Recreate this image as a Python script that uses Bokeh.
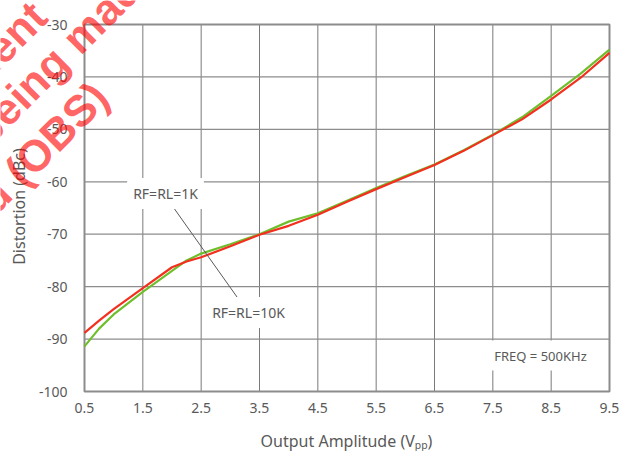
from bokeh.plotting import figure
from bokeh.models import Range1d, Label, FixedTicker
from bokeh.embed import file_html
from bokeh.resources import INLINE
import math

# ---------------- data ----------------
x_ticks = [0.5, 1.5, 2.5, 3.5, 4.5, 5.5, 6.5, 7.5, 8.5, 9.5]
y_ticks = [-100, -90, -80, -70, -60, -50, -40, -30]
y_tick_labels = {t: str(t) for t in y_ticks}
x_lim = (0.5, 9.5)
y_lim = (-100, -30)

x_red = [0.5, 0.75, 1.0, 1.5, 2.0, 2.25, 2.5, 3.0, 3.5, 4.0, 4.5, 5.0, 5.5, 6.0, 6.5, 7.0, 7.5, 8.0, 8.5, 9.0, 9.5]
y_red = [-88.8, -86.5, -84.3, -80.3, -76.3, -75.2, -74.4, -72.3, -70.1, -68.4, -66.3, -63.8, -61.4, -59.1, -56.8, -54.1, -51.1, -48.1, -44.3, -40.2, -35.4]

x_green = [0.5, 0.75, 1.0, 1.5, 2.0, 2.25, 2.5, 3.0, 3.5, 4.0, 4.5, 5.0, 5.5, 6.0, 6.5, 7.0, 7.5, 8.0, 8.5, 9.0, 9.5]
y_green = [-91.4, -88.0, -85.3, -81.0, -77.0, -75.0, -73.7, -71.9, -70.0, -67.6, -66.0, -63.6, -61.2, -58.9, -56.7, -54.0, -51.0, -47.7, -43.6, -39.4, -34.8]

label_1k = "RF=RL=1K"
label_10k = "RF=RL=10K"
label_freq = "FREQ = 500KHz"
x_title = "Output Amplitude (V\u209a\u209a)"
y_title = "Distortion (dBc)"
watermark = ["Component", "being made", "obsoleted (OBS)"]

# ---------------- geometry ----------------
W, H = 623, 458
PL, PR, PT, PB = 84, 609, 24, 391          # plot area box in canvas pixels
sx = (PR - PL) / (x_lim[1] - x_lim[0])
sy = (PB - PT) / (y_lim[1] - y_lim[0])
def dx(px):
    return x_lim[0] + (px - PL) / sx
def dy(py):
    return y_lim[1] - (py - PT) / sy

p = figure(width=W, height=H, output_backend="svg", toolbar_location=None,
           x_range=Range1d(dx(0), dx(W)), y_range=Range1d(dy(H), dy(0)),
           min_border=0)
p.background_fill_color = "white"
p.border_fill_color = "white"
p.outline_line_color = None
p.grid.visible = False

FONT = "Noto Sans"
TXT = "#595959"
for ax in (p.xaxis[0], p.yaxis[0]):
    ax.axis_line_color = None
    ax.major_tick_line_color = None
    ax.minor_tick_line_color = None
    ax.major_label_text_font = FONT
    ax.major_label_text_font_size = "14px"
    ax.major_label_text_color = TXT
p.xaxis.ticker = FixedTicker(ticks=x_ticks)
p.yaxis.ticker = FixedTicker(ticks=y_ticks)
p.yaxis.major_label_overrides = y_tick_labels
p.xaxis.fixed_location = y_lim[0]
p.yaxis.fixed_location = x_lim[0]
p.xaxis.major_label_standoff = 5
p.yaxis.major_label_standoff = 11

# grid lines, limited to the plot area
vx = x_ticks[1:-1]
p.segment(x0=vx, y0=[y_lim[0]] * len(vx), x1=vx, y1=[y_lim[1]] * len(vx),
          line_color="#7a7a7a", line_width=1)
hy = y_ticks[1:-1]
p.segment(x0=[x_lim[0]] * len(hy), y0=hy, x1=[x_lim[1]] * len(hy), y1=hy,
          line_color="#8c8c8c", line_width=1.3)

# plot-area border
p.quad(left=[x_lim[0]], right=[x_lim[1]], bottom=[y_lim[0]], top=[y_lim[1]],
       fill_color=None, line_color="#8c8c8c", line_width=2)

p.line(x_green, y_green, line_color="#6fbf2c", line_width=2.2)
p.line(x_red, y_red, line_color="#f2301f", line_width=2.2)

# leader line
p.segment(x0=[dx(168)], y0=[dy(200)], x1=[dx(239)], y1=[dy(300)], line_color="#595959", line_width=1)

def add_label(text, cx, cy, size):
    p.add_layout(Label(x=dx(cx), y=dy(cy), text=text, text_font=FONT, text_font_size=size,
                       text_color=TXT, text_align="center", text_baseline="middle",
                       background_fill_color="white", padding=6))

add_label(label_1k, 165, 193, "14px")
add_label(label_10k, 248, 312, "14px")
add_label(label_freq, 540, 355, "13px")

# axis titles
p.add_layout(Label(x=dx(346), y=dy(440), text=x_title, text_font=FONT, text_font_size="16px",
                   text_color=TXT, text_align="center", text_baseline="middle"))
p.add_layout(Label(x=dx(18), y=dy(206), text=y_title, text_font=FONT, text_font_size="16px",
                   text_color=TXT, text_align="center", text_baseline="middle", angle=math.pi / 2))

# watermark
wm_pos = [(38.5, 8.5, "right"), (-22.6, 136.6, "left"), (100, 89, "right")]
for t, (x, y, al) in zip(watermark, wm_pos):
    p.add_layout(Label(x=dx(x), y=dy(y), text=t, text_font="Liberation Sans", text_font_style="bold",
                       text_font_size="44px", text_color="#ff0000", text_alpha=0.62,
                       text_align=al, text_baseline="middle", angle=math.pi / 4))

open("out.html", "w").write(file_html(p, INLINE))
